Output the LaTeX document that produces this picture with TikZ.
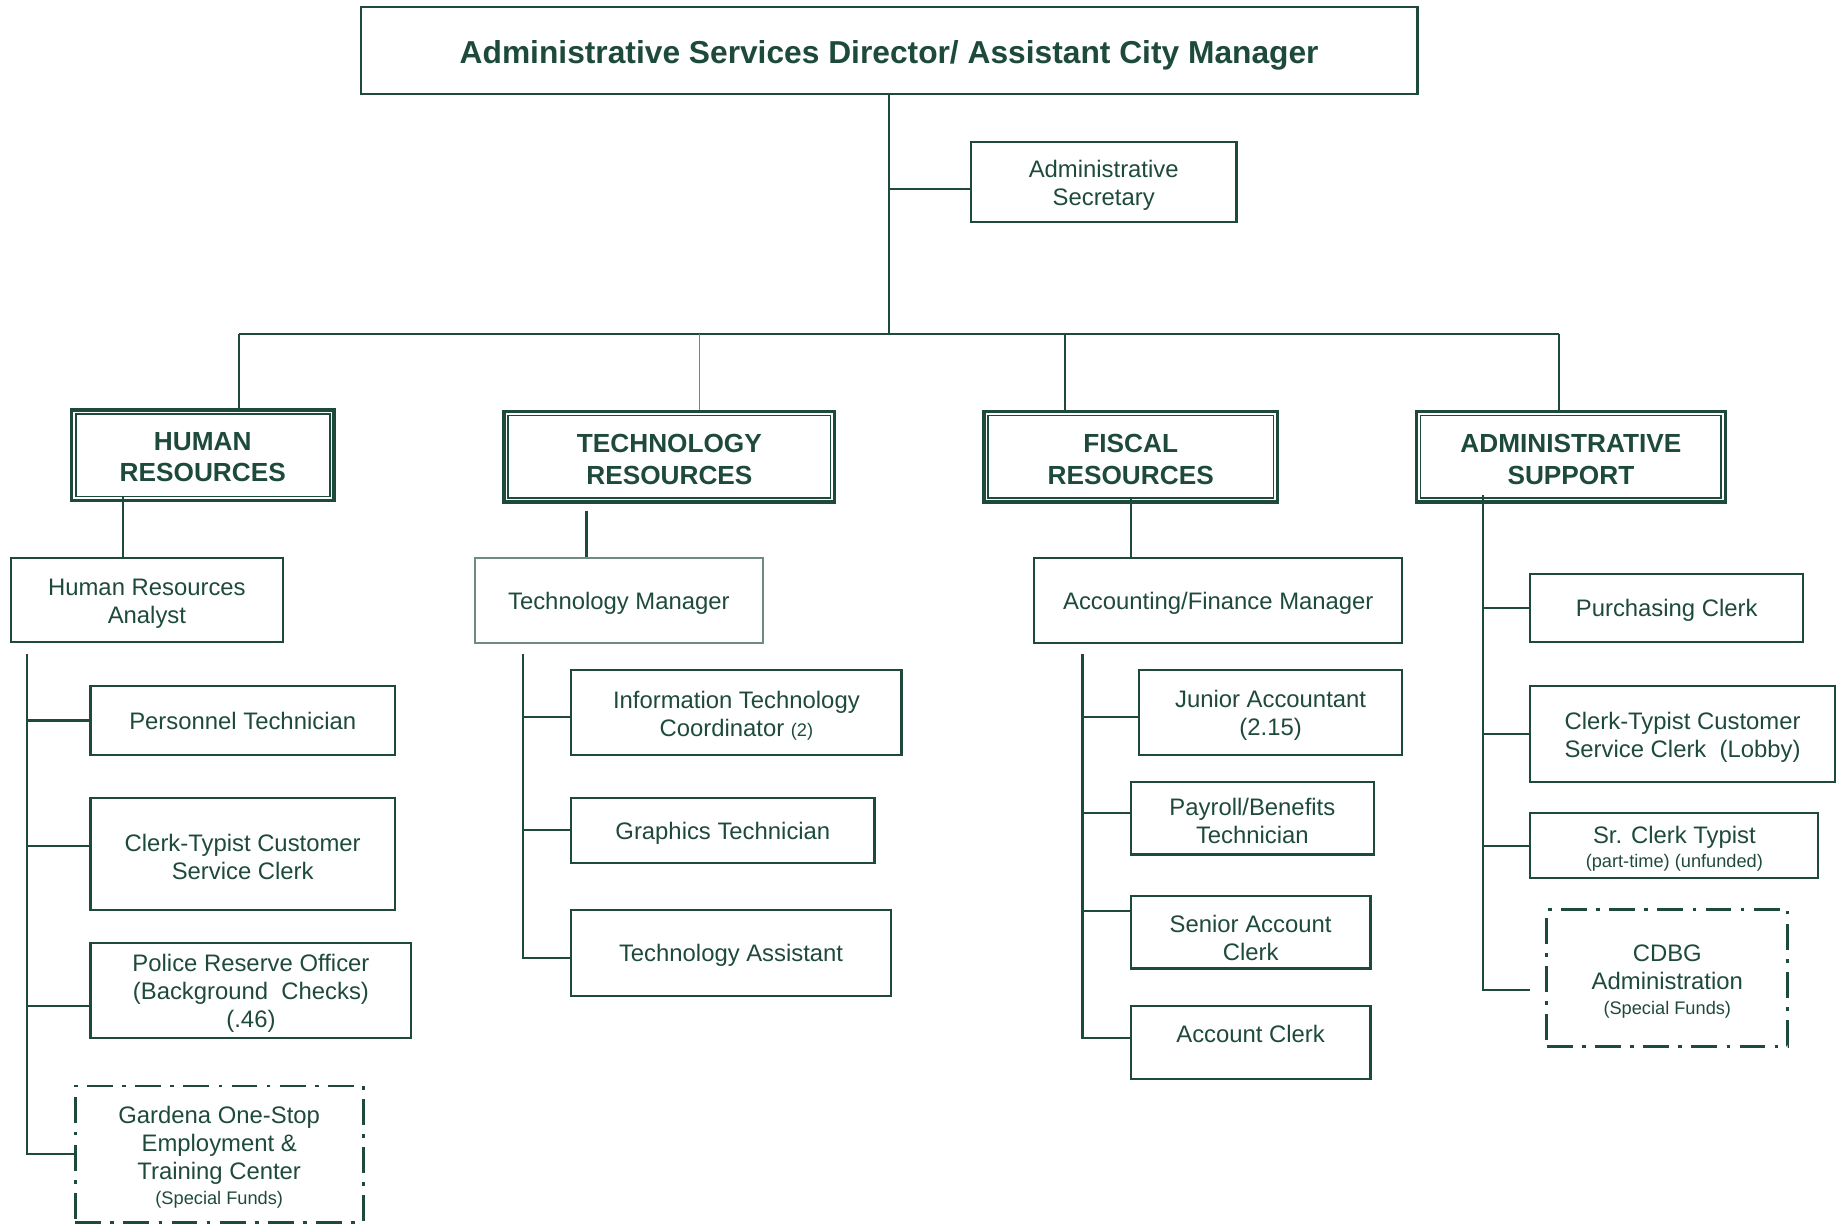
\documentclass[tikz,border=0pt]{standalone}
\usepackage{fontspec}
\setmainfont{Liberation Sans}
\definecolor{dg}{RGB}{30,74,60}
\definecolor{lg}{RGB}{112,140,130}
\newcommand\mystrut{\rule{0pt}{20pt}}
\newcommand\hstrut{\rule{0pt}{20pt}}
\begin{document}
\begin{tikzpicture}[x=1pt,y=-1pt,
  every node/.style={text=dg},
  wh/.style 2 args={minimum width=#1pt,minimum height=#2pt},
  box/.style={draw=dg,line width=1.8pt,align=center,inner sep=0pt,font=\fontsize{20.3}{24}\selectfont,
    execute at begin node={\mystrut}},
  hbox/.style={draw=dg,line width=3pt,align=center,inner sep=0pt,font=\bfseries\fontsize{22.3}{27}\selectfont},
  dbox/.style={box,line width=2.4pt,dash pattern=on 22pt off 8pt on 3pt off 8pt},
  conn/.style={draw=dg,line width=1.8pt}]
\useasboundingbox (0,0) rectangle (1568,1041);
% top
\node[box,line width=2.2pt,wh={899}{74},font=\bfseries\fontsize{27}{32}\selectfont,
  execute at begin node={\rule{0pt}{27pt}}] (title) at (756.5,43) {Administrative Services Director/ Assistant City Manager};
\node[box,wh={226}{68}] (sec) at (939,155) {\mystrut Administrative\\Secretary};
% division heads
\node[hbox,wh={223}{77}] (hr) at (172.5,387.5) {\rule{0pt}{18pt}HUMAN\\RESOURCES};
\node[hbox,wh={281}{77}] (tr) at (569.5,388.5) {\hstrut TECHNOLOGY\\RESOURCES};
\node[hbox,wh={250}{77}] (fr) at (962,388.5) {\hstrut FISCAL\\RESOURCES};
\node[hbox,wh={263}{77}] (as) at (1336.5,388.5) {\hstrut ADMINISTRATIVE\\SUPPORT};
\foreach \n in {hr,tr,fr,as}
  \draw[dg,line width=1.5pt] ([shift={(5pt,5pt)}]\n.south west) rectangle ([shift={(-5pt,-5pt)}]\n.north east);
% human resources
\node[box,wh={232}{71}] (hra) at (125,510.5) {\mystrut Human Resources\\Analyst};
\node[box,wh={259}{58},text depth=5pt] (pt) at (206.5,613) {Personnel Technician};
\node[box,wh={259}{95}] (ctc) at (206.5,726.5) {\mystrut Clerk-Typist Customer\\Service Clerk};
\node[box,wh={273}{81}] (pro) at (213.5,842.5) {\mystrut Police Reserve Officer\\(Background~~Checks)\\(.46)};
\node[dbox,wh={245}{116}] (gar) at (186.5,982) {\mystrut Gardena One-Stop\\Employment \&\\Training Center\\[-3pt]{\fontsize{15.5}{19}\selectfont (Special Funds)}};
% technology
\node[box,draw=lg,line width=1.5pt,wh={245}{72}] (tm) at (526.5,511) {Technology Manager};
\node[box,wh={281}{72}] (itc) at (626.5,606) {\mystrut Information Technology\\Coordinator {\fontsize{15.5}{19}\selectfont (2)}};
\node[box,wh={258}{55}] (gt) at (615,706.5) {Graphics Technician};
\node[box,wh={272}{73}] (ta) at (622,810.5) {Technology Assistant};
% fiscal
\node[box,wh={313}{72}] (afm) at (1036.5,511) {Accounting/Finance Manager};
\node[box,wh={224}{72}] (ja) at (1081,606) {\mystrut Junior Accountant\\(2.15)};
\node[box,wh={207}{62}] (pb) at (1065.5,696) {\mystrut Payroll/Benefits\\Technician};
\node[box,wh={204}{62}] (sac) at (1064,793) {\rule{0pt}{25pt}Senior Account\\Clerk};
\node[box,wh={204}{62},text depth=20pt] (ac) at (1064,887) {Account Clerk};
% admin support
\node[box,wh={232}{58}] (pc) at (1418,517) {Purchasing Clerk};
\node[box,wh={259}{81}] (ctl) at (1431.5,624.5) {\mystrut Clerk-Typist Customer\\Service Clerk~~(Lobby)};
\node[box,wh={245}{55}] (sct) at (1424.5,719.5) {\mystrut Sr. Clerk Typist\\[-4pt]{\fontsize{15.5}{19}\selectfont (part-time) (unfunded)}};
\node[dbox,wh={205}{116}] (cdbg) at (1418.5,832) {\mystrut CDBG\\Administration\\[-3pt]{\fontsize{15.5}{19}\selectfont (Special Funds)}};
% coordinates
\coordinate (busL) at (203,284);
\coordinate (busR) at (1326,284);
\coordinate (d2) at (595,284);
\coordinate (d3) at (906,284);
\coordinate (hrs) at (23,556);
\coordinate (trs) at (445,556);
\coordinate (frs) at (921,556);
\coordinate (ass) at (1262,421);
\coordinate (bsec) at ([yshift=-6pt]sec.west);
\coordinate (bctc) at ([yshift=6.5pt]ctc.west);
\coordinate (bpro) at ([yshift=-13.5pt]pro.west);
\coordinate (bitc) at ([yshift=-4pt]itc.west);
\coordinate (bta) at ([yshift=-4.5pt]ta.west);
\coordinate (bja) at ([yshift=-4pt]ja.west);
\coordinate (bpb) at ([yshift=4pt]pb.west);
\coordinate (bsac) at ([yshift=18pt]sac.west);
\coordinate (bac) at ([yshift=4pt]ac.west);
\coordinate (bcdbg) at ([yshift=-10pt]cdbg.west);
\coordinate (hrx) at ([xshift=-20pt]hra.north);
\coordinate (tmx) at ([xshift=-27.5pt]tm.north);
% top connectors
\draw[conn] (title.south) -- (title.south |- busL);
\draw[conn] (bsec) -- (bsec -| title.south);
\draw[conn] (busL) -- (busR);
\draw[conn] (busL) -- (busL |- hr.north);
\draw[draw=lg,line width=1.1pt] (d2) -- (d2 |- tr.north);
\draw[conn] (d3) -- (d3 |- fr.north);
\draw[conn] (busR) -- (busR |- as.north);
% division to manager
\draw[conn,shorten <=-5pt] (hrx |- hr.south) -- (hrx);
\draw[conn,shorten <=6pt] (tmx |- tr.south) -- (tmx);
\draw[conn,shorten <=-5pt] (fr.south) -- (fr.south |- afm.north);
% HR spine
\draw[conn] (hrs) |- (gar.west);
\draw[conn] (hrs |- pt.west) -- (pt.west);
\draw[conn] (hrs |- bctc) -- (bctc);
\draw[conn] (hrs |- bpro) -- (bpro);
% TR spine
\draw[conn] (trs) |- (bta);
\draw[conn] (trs |- bitc) -- (bitc);
\draw[conn] (trs |- gt.west) -- (gt.west);
% FR spine
\draw[conn] (frs) |- (bac);
\draw[conn] (frs |- bja) -- (bja);
\draw[conn] (frs |- bpb) -- (bpb);
\draw[conn] (frs |- bsac) -- (bsac);
% AS spine
\draw[conn,shorten >=13pt] (ass) |- (bcdbg);
\draw[conn] (ass |- pc.west) -- (pc.west);
\draw[conn] (ass |- ctl.west) -- (ctl.west);
\draw[conn] (ass |- sct.west) -- (sct.west);
\end{tikzpicture}
\end{document}
